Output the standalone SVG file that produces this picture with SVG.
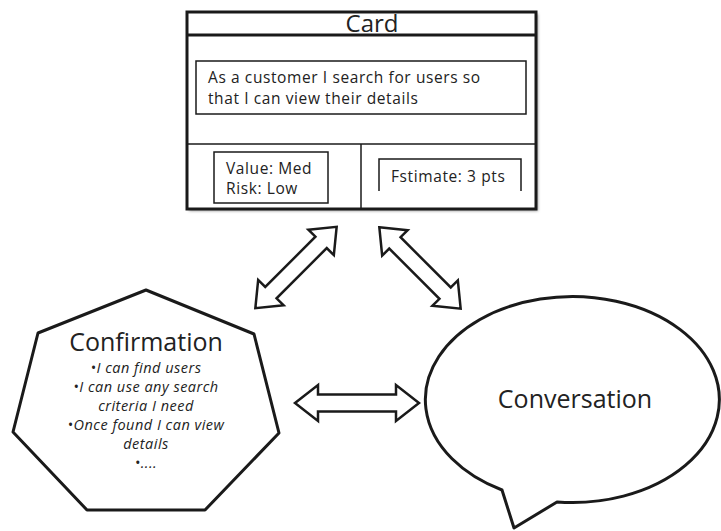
<svg xmlns="http://www.w3.org/2000/svg" width="721" height="531" viewBox="0 0 721 531">
<defs>
<style>
.ln{fill:none;stroke:#1a1a1a;stroke-width:1.5}
.sh{fill:#fff;stroke:#1a1a1a;stroke-width:3;stroke-linejoin:round}
.t{font-family:"Open Sans","Noto Sans","DejaVu Sans",sans-serif;fill:#222}
.b{font-size:15.5px;letter-spacing:0.6px}
.it{font-family:"Open Sans","Noto Sans","DejaVu Sans",sans-serif;font-style:italic;font-size:14.5px;letter-spacing:0.5px;fill:#222;text-anchor:middle}
.arr{fill:#fff;stroke:#1a1a1a;stroke-width:2.5;stroke-linejoin:miter}
</style>
<filter id="blur" x="-10%" y="-10%" width="120%" height="120%"><feGaussianBlur stdDeviation="1.5"/></filter>
<path id="dblA" d="M -57.5 0 L -35.5 -18 L -35.5 -8 L 35.5 -8 L 35.5 -18 L 57.5 0 L 35.5 18 L 35.5 8 L -35.5 8 L -35.5 18 Z"/>
</defs>
<rect width="721" height="531" fill="#fff"/>

<g id="card">
<rect x="189" y="14" width="349" height="197" fill="#999" filter="url(#blur)"/>
<rect x="187" y="12" width="349" height="197" fill="#fff" stroke="#1a1a1a" stroke-width="3"/>
<line x1="187" y1="35" x2="536" y2="35" stroke="#1a1a1a" stroke-width="3"/>
<text class="t" x="372" y="32" font-size="24" text-anchor="middle">Card</text>
<rect class="ln" x="196" y="61" width="330" height="53"/>
<text class="t b" x="208" y="83">As a customer I search for users so</text>
<text class="t b" x="208" y="104">that I can view their details</text>
<line class="ln" x1="187" y1="144" x2="536" y2="144"/>
<line class="ln" x1="361" y1="144" x2="361" y2="209"/>
<rect class="ln" x="214" y="152" width="114" height="51"/>
<text class="t b" x="226" y="174">Value: Med</text>
<text class="t b" x="226" y="194">Risk: Low</text>
<path class="ln" d="M 379 191 L 379 159 L 521 159 L 521 191"/>
<text class="t b" x="391" y="182">Fstimate: 3 pts</text>
</g>

<g id="confirmation">
<polygon class="sh" points="146,290 254,334 279,433 205,510 87,510 13,432 38,333"/>
<text class="t" x="146" y="351" font-size="25" text-anchor="middle">Confirmation</text>
<text class="it" x="146" y="373">•I can find users</text>
<text class="it" x="146" y="392">•I can use any search</text>
<text class="it" x="146" y="411">criteria I need</text>
<text class="it" x="146" y="430">•Once found I can view</text>
<text class="it" x="146" y="449">details</text>
<text class="it" x="146" y="468">•....</text>
</g>

<g id="conversation">
<path class="sh" d="M 502 490 A 147 103 0 1 1 557 502 L 514 528 Z"/>
<text class="t" x="575" y="408" font-size="25" text-anchor="middle">Conversation</text>
</g>

<g id="connectors">
<use href="#dblA" class="arr" transform="translate(296,267.5) rotate(-45)"/>
<use href="#dblA" class="arr" transform="translate(420,268) rotate(45)"/>
<path class="arr" d="M 295 403 L 318 385 L 318 394.5 L 396 394.5 L 396 385 L 419 403 L 396 421 L 396 411.5 L 318 411.5 L 318 421 Z"/>
</g>
</svg>
